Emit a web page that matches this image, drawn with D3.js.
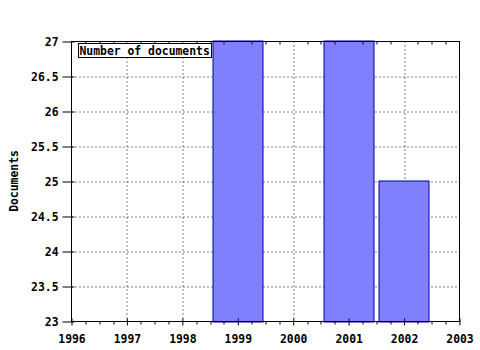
<!DOCTYPE html>
<html>
<head>
<meta charset="utf-8">
<script src="https://cdn.jsdelivr.net/npm/d3@7"></script>
<style>
  body { margin: 0; background: #fff; }
  svg text { font-family: "DejaVu Sans Mono", monospace; font-weight: bold; font-size: 11.4px; }
</style>
</head>
<body>
<svg width="480" height="350"></svg>
<script>
// data
const years = [1999, 2001, 2002];
const documents = [27, 27, 25];
const xTicks = [1996, 1997, 1998, 1999, 2000, 2001, 2002, 2003];
const yTicks = [23, 23.5, 24, 24.5, 25, 25.5, 26, 26.5, 27];

const margin = { top: 41.5, right: 21, bottom: 29, left: 71.5 },
      width = 459.5 - margin.left,
      height = 321.5 - margin.top;

const svg = d3.select("svg");
const g = svg.append("g").attr("transform", `translate(${margin.left},${margin.top})`);

const x = d3.scaleLinear().domain([1996, 2003]).range([0, width]);
const y = d3.scaleLinear().domain([23, 27]).range([height, 0]);

// dotted grid
g.selectAll(".vgrid")
    .data(xTicks.slice(1, -1))
  .enter().append("line")
    .attr("x1", d => Math.round(x(d)) + 0.5).attr("x2", d => Math.round(x(d)) + 0.5)
    .attr("y1", 0).attr("y2", height)
    .attr("stroke", "#000").attr("stroke-dasharray", "1,3");
g.selectAll(".hgrid")
    .data(yTicks.slice(1, -1))
  .enter().append("line")
    .attr("y1", d => Math.round(y(d)) + 0.5).attr("y2", d => Math.round(y(d)) + 0.5)
    .attr("x1", 0).attr("x2", width)
    .attr("stroke", "#000").attr("stroke-dasharray", "1,3");

// bars
const bw = (x(1997) - x(1996)) * 0.91;
g.selectAll(".bar")
    .data(years)
  .enter().append("rect")
    .attr("x", d => Math.round(x(d) - bw / 2) + 0.5)
    .attr("y", (d, i) => Math.round(y(documents[i])) - 0.5)
    .attr("width", Math.round(bw))
    .attr("height", (d, i) => Math.round(height - y(documents[i])) + 1)
    .attr("fill", "#8080ff")
    .attr("stroke", "#0000a0");

// frame
g.append("rect")
    .attr("x", 0).attr("y", 0).attr("width", width).attr("height", height)
    .attr("fill", "none").attr("stroke", "#000");

// minor ticks on x (quarters), bottom and top
const minor = d3.range(1996, 2003, 0.25).filter(d => d % 1 !== 0);
g.selectAll(".mtb")
    .data(minor)
  .enter().append("line")
    .attr("x1", d => Math.round(x(d)) + 0.5).attr("x2", d => Math.round(x(d)) + 0.5)
    .attr("y1", height).attr("y2", height + 3)
    .attr("stroke", "#000");
g.selectAll(".mtt")
    .data(minor)
  .enter().append("line")
    .attr("x1", d => Math.round(x(d)) + 0.5).attr("x2", d => Math.round(x(d)) + 0.5)
    .attr("y1", 0).attr("y2", 3)
    .attr("stroke", "#000");

// x axis
const xAxis = g.append("g")
    .attr("transform", `translate(0,${height})`)
    .call(d3.axisBottom(x).tickValues(xTicks).tickFormat(d3.format("d")).tickSize(4).tickPadding(9))
    .call(a => a.select(".domain").remove());
xAxis.selectAll(".tick line").attr("y1", -3);
xAxis.selectAll("text").attr("fill", "#000").style("font-size", "11.4px");

// y axis
const yAxis = g.append("g")
    .call(d3.axisLeft(y).tickValues(yTicks).tickFormat(d => d).tickSize(9).tickPadding(4))
    .call(a => a.select(".domain").remove());
yAxis.selectAll(".tick line").attr("x1", 3);
yAxis.selectAll("text").attr("fill", "#000").style("font-size", "11.4px");

// y label
svg.append("text")
    .attr("transform", "rotate(-90)")
    .attr("x", -181).attr("y", 18)
    .attr("text-anchor", "middle")
    .text("Documents");

// legend
g.append("rect")
    .attr("x", 7).attr("y", 2).attr("width", 133).attr("height", 14)
    .attr("fill", "#fff").attr("stroke", "#000");
g.append("text")
    .attr("x", 8).attr("y", 13)
    .text("Number of documents");
</script>
</body>
</html>
